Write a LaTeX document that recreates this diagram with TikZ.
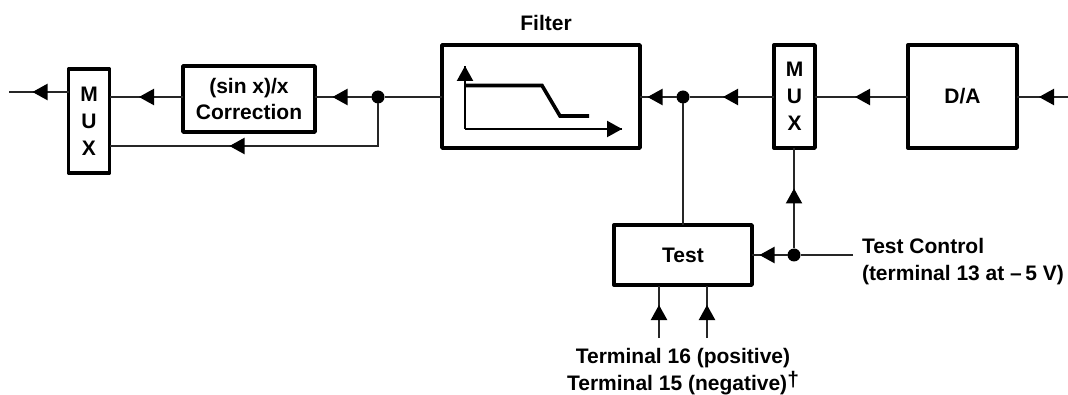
\documentclass[tikz,border=0pt]{standalone}
\usepackage{fontspec}
\setmainfont{Liberation Sans}
\usetikzlibrary{decorations.markings,calc}
\tikzset{
  block/.style={draw=black,line width=3.4pt,line join=round,rectangle,inner sep=0pt,outer sep=0pt,align=center,font=\lblfont},
  label text/.style={inner sep=0pt,outer sep=0pt,align=center,font=\lblfont},
  wire/.style={draw=black!85,line width=1.2pt},
  tipat/.style={postaction={decorate,decoration={markings,mark=at position #1 with {\fill[black] (0pt,0pt) -- (-15pt,8.3pt) -- (-15pt,-8.3pt) -- cycle;}}}},
  junction/.style={circle,fill=black,inner sep=0pt,outer sep=0pt,minimum size=13pt},
  curve line/.style={draw=black,line width=3.6pt,line join=miter}
}
\newcommand{\lblfont}{\bfseries\fontsize{21}{27}\selectfont}
\begin{document}
\begin{tikzpicture}[x=1pt,y=-1pt]
\useasboundingbox (0,0) rectangle (1068,395);
% blocks
\node[block,minimum width=41pt,minimum height=104pt] (muxa) at (89,121) {M\\U\\X};
\node[block,minimum width=132pt,minimum height=66pt] (sinx) at (249,99) {(sin x)/x\\[-1pt]Correction};
\node[block,minimum width=198pt,minimum height=103pt] (filter) at (541,96.5) {};
\node[block,minimum width=41pt,minimum height=103pt] (muxb) at (794.5,96.5) {M\\U\\X};
\node[block,minimum width=109pt,minimum height=103pt] (da) at (962.5,96.5) {D/A};
\node[block,minimum width=138pt,minimum height=60pt] (test) at (683,255) {Test};
% labels
\node[label text] (filterlabel) at (546,23) {Filter};
\node[label text,align=left,anchor=west] (ctrl) at (862,262) {Test Control\\(terminal 13 at –\,5 V)};
\node[label text] (terms) at (683,371.5) {Terminal 16 (positive)\\Terminal 15 (negative)\rlap{\raisebox{3.5pt}{†}}\hphantom{†}};
% junctions and free ends
\node[junction] (ja) at (378,97) {};
\node[junction] (jb) at (683,97) {};
\node[junction] (jc) at (794,255) {};
\coordinate (outl) at (9,92);
\coordinate (inr) at (1068,97);
\coordinate (lowr) at (378,146);
\coordinate (ctrlend) at (853,255);
\coordinate (tsixteen) at (659,338);
\coordinate (tfifteen) at (707,338);
\coordinate (tsixteenup) at (659,286);
\coordinate (tfifteenup) at (707,286);
% connectors
\draw[wire,tipat=36pt] (muxa.west |- outl) -- (outl);
\draw[wire,tipat=44pt] (sinx.west |- ja) -- (muxa.east |- ja);
\draw[wire,tipat=39pt] (ja) -- (sinx.east |- ja);
\draw[wire,tipat=191pt] (ja) |- (muxa.east |- lowr);
\draw[wire] (filter.west |- ja) -- (ja);
\draw[wire,tipat=29pt] (jb) -- (filter.east |- jb);
\draw[wire,tipat=51pt] (muxb.west |- jb) -- (jb);
\draw[wire,tipat=53pt] (da.west |- jb) -- (muxb.east |- jb);
\draw[wire,tipat=29pt] (inr) -- (da.east |- inr);
\draw[wire] (jb) -- (test.north);
\draw[wire,tipat=60pt] (jc) -- (muxb.south -| jc);
\draw[wire,tipat=28pt] (jc) -- (test.east |- jc);
\draw[wire] (ctrlend) -- (jc);
\draw[wire,tipat=33pt] (tsixteen) -- (tsixteenup);
\draw[wire,tipat=33pt] (tfifteen) -- (tfifteenup);
% filter response sketch
\coordinate (origin) at (465,129);
\coordinate (ytip) at (465,66);
\coordinate (xtip) at (622,129);
\draw[wire,draw=black,tipat=63pt] (origin) -- (ytip);
\draw[wire,draw=black,tipat=157pt] (origin) -- (xtip);
\draw[curve line] (465,85.5) -- (542,85.5) -- (560,116) -- (589,116);
\end{tikzpicture}
\end{document}
